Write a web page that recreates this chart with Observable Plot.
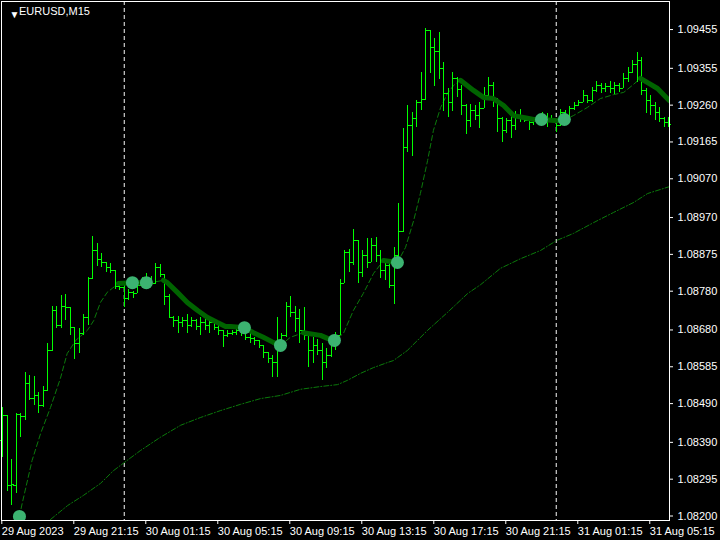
<!DOCTYPE html>
<html>
<head>
<meta charset="utf-8">
<script src="https://cdn.jsdelivr.net/npm/d3@7"></script>
<script src="https://cdn.jsdelivr.net/npm/@observablehq/plot@0.6"></script>
<style>
  html, body { margin: 0; padding: 0; background: #000; }
  #chart { width: 720px; height: 540px; }
</style>
</head>
<body>
<div id="chart"></div>
<script>
// ---- Data (EURUSD, M15) ----
const symbolTitle = "EURUSD,M15";

const open = [1.08395,1.08459,1.08279,1.08279,1.08462,1.08457,1.08542,1.08503,1.08511,1.08485,
1.08524,1.08627,1.08730,1.08691,1.08741,1.08738,1.08686,1.08645,1.08671,1.08712,
1.08813,1.08885,1.08862,1.08854,1.08841,1.08833,1.08792,1.08790,1.08761,1.08777,
1.08774,1.08795,1.08805,1.08813,1.08800,1.08841,1.08823,1.08766,1.08712,1.08704,
1.08699,1.08704,1.08691,1.08704,1.08689,1.08699,1.08691,1.08699,1.08686,1.08679,
1.08666,1.08671,1.08673,1.08679,1.08679,1.08661,1.08658,1.08653,1.08640,1.08622,
1.08606,1.08596,1.08640,1.08666,1.08741,1.08725,1.08710,1.08679,1.08666,1.08627,
1.08640,1.08627,1.08596,1.08614,1.08640,1.08666,1.08800,1.08880,1.08854,1.08911,
1.08828,1.08872,1.08854,1.08898,1.08872,1.08833,1.08846,1.08795,1.08872,1.08934,
1.09151,1.09207,1.09226,1.09267,1.09275,1.09453,1.09409,1.09398,1.09355,1.09290,
1.09267,1.09329,1.09300,1.09259,1.09220,1.09246,1.09233,1.09251,1.09285,1.09311,
1.09272,1.09226,1.09195,1.09220,1.09207,1.09233,1.09226,1.09220,1.09215,1.09220,
1.09226,1.09220,1.09226,1.09220,1.09207,1.09241,1.09233,1.09251,1.09259,1.09267,
1.09285,1.09272,1.09298,1.09311,1.09303,1.09308,1.09303,1.09311,1.09303,1.09329,
1.09344,1.09365,1.09375,1.09298,1.09272,1.09259,1.09241,1.09226,1.09215];

const high = [1.08480,1.08459,1.08346,1.08464,1.08464,1.08570,1.08562,1.08560,1.08519,1.08534,
1.08645,1.08741,1.08741,1.08769,1.08771,1.08738,1.08686,1.08684,1.08720,1.08815,
1.08921,1.08903,1.08877,1.08854,1.08851,1.08833,1.08805,1.08800,1.08784,1.08779,
1.08805,1.08815,1.08826,1.08818,1.08851,1.08849,1.08823,1.08771,1.08715,1.08715,
1.08712,1.08720,1.08712,1.08707,1.08712,1.08707,1.08712,1.08699,1.08699,1.08679,
1.08679,1.08679,1.08681,1.08689,1.08686,1.08679,1.08661,1.08653,1.08640,1.08622,
1.08614,1.08712,1.08671,1.08751,1.08766,1.08741,1.08733,1.08738,1.08666,1.08661,
1.08655,1.08645,1.08632,1.08661,1.08673,1.08810,1.08885,1.08888,1.08939,1.08911,
1.08885,1.08916,1.08916,1.08919,1.08885,1.08862,1.08851,1.08893,1.09006,1.09200,
1.09259,1.09241,1.09272,1.09344,1.09458,1.09453,1.09432,1.09447,1.09370,1.09303,
1.09344,1.09331,1.09311,1.09262,1.09262,1.09259,1.09267,1.09306,1.09331,1.09318,
1.09277,1.09228,1.09226,1.09231,1.09244,1.09249,1.09228,1.09223,1.09228,1.09236,
1.09241,1.09238,1.09233,1.09220,1.09249,1.09246,1.09257,1.09267,1.09272,1.09298,
1.09285,1.09306,1.09321,1.09316,1.09316,1.09321,1.09318,1.09316,1.09342,1.09357,
1.09375,1.09396,1.09383,1.09303,1.09285,1.09267,1.09254,1.09228,1.09228];

const low = [1.08351,1.08263,1.08227,1.08258,1.08403,1.08446,1.08498,1.08485,1.08464,1.08480,
1.08521,1.08624,1.08684,1.08684,1.08704,1.08666,1.08604,1.08619,1.08666,1.08691,
1.08810,1.08844,1.08841,1.08828,1.08826,1.08784,1.08782,1.08738,1.08756,1.08761,
1.08774,1.08790,1.08797,1.08792,1.08797,1.08815,1.08743,1.08710,1.08686,1.08671,
1.08686,1.08671,1.08686,1.08679,1.08666,1.08679,1.08671,1.08679,1.08666,1.08635,
1.08661,1.08666,1.08666,1.08663,1.08653,1.08645,1.08640,1.08632,1.08606,1.08593,
1.08557,1.08557,1.08640,1.08661,1.08712,1.08673,1.08645,1.08653,1.08583,1.08593,
1.08614,1.08550,1.08581,1.08609,1.08627,1.08666,1.08800,1.08828,1.08846,1.08800,
1.08815,1.08839,1.08854,1.08854,1.08813,1.08808,1.08787,1.08746,1.08854,1.08931,
1.09138,1.09128,1.09202,1.09246,1.09272,1.09342,1.09308,1.09326,1.09244,1.09228,
1.09244,1.09280,1.09233,1.09184,1.09202,1.09220,1.09200,1.09251,1.09272,1.09254,
1.09189,1.09164,1.09187,1.09174,1.09195,1.09215,1.09215,1.09195,1.09207,1.09213,
1.09210,1.09202,1.09215,1.09189,1.09205,1.09220,1.09226,1.09246,1.09257,1.09267,
1.09264,1.09267,1.09293,1.09290,1.09293,1.09290,1.09287,1.09293,1.09303,1.09318,
1.09342,1.09318,1.09285,1.09238,1.09233,1.09220,1.09215,1.09202,1.09202];

const close = [1.08459,1.08279,1.08281,1.08462,1.08457,1.08542,1.08503,1.08511,1.08485,1.08524,
1.08627,1.08730,1.08691,1.08741,1.08738,1.08686,1.08645,1.08671,1.08712,1.08813,
1.08885,1.08862,1.08854,1.08841,1.08833,1.08792,1.08790,1.08761,1.08777,1.08774,
1.08795,1.08805,1.08813,1.08800,1.08841,1.08823,1.08766,1.08712,1.08704,1.08699,
1.08704,1.08691,1.08704,1.08689,1.08699,1.08691,1.08699,1.08686,1.08679,1.08666,
1.08671,1.08673,1.08679,1.08679,1.08661,1.08658,1.08653,1.08640,1.08622,1.08606,
1.08596,1.08640,1.08666,1.08741,1.08725,1.08710,1.08679,1.08666,1.08627,1.08640,
1.08627,1.08596,1.08614,1.08640,1.08666,1.08800,1.08880,1.08854,1.08911,1.08828,
1.08872,1.08854,1.08898,1.08872,1.08833,1.08846,1.08795,1.08872,1.08934,1.09151,
1.09207,1.09226,1.09267,1.09275,1.09453,1.09409,1.09398,1.09355,1.09290,1.09267,
1.09329,1.09300,1.09259,1.09220,1.09246,1.09233,1.09251,1.09285,1.09311,1.09272,
1.09226,1.09195,1.09220,1.09207,1.09233,1.09226,1.09220,1.09215,1.09220,1.09226,
1.09220,1.09226,1.09220,1.09207,1.09241,1.09233,1.09251,1.09259,1.09267,1.09285,
1.09272,1.09298,1.09311,1.09303,1.09308,1.09303,1.09311,1.09303,1.09329,1.09344,
1.09365,1.09375,1.09298,1.09272,1.09259,1.09241,1.09226,1.09215,1.09210];

// fast moving average (read points: bar position, price)
const fastIdx = [3.7,4.3,6.5,8.4,10.6,12.8,14.3,16.2,18.8,20.2,21.7,23.2,24.3,25.7,28.8,31.9,32.8,35.7,36.6,38.8,41,43.3,45.5,47.7,49.5,50.6,53.7,55.7,57.9,60.1,61.7,63.9,66.8,70.6,72.8,73.7,75.7,77.9,80.1,82.4,84.6,87.7,89.5,91.3,92.8,94.4,95.7,97.3,98.8,100.2,101.7,104.6,106.8,109,111.3,113.5,115.7,118,119.7,123.3,124.8,126.8,129.9,132.8,135.7,138,139.9,141.7,143.3,145.5,148.1];
const fastVal = [1.08199,1.08232,1.08343,1.08413,1.08480,1.08555,1.08619,1.08653,1.08679,1.08704,1.08751,1.08777,1.08787,1.08800,1.08802,1.08802,1.08802,1.08808,1.08802,1.08777,1.08751,1.08730,1.08712,1.08699,1.08689,1.08689,1.08686,1.08673,1.08661,1.08648,1.08640,1.08661,1.08673,1.08666,1.08655,1.08653,1.08671,1.08730,1.08774,1.08826,1.08859,1.08854,1.08893,1.08962,1.09032,1.09117,1.09195,1.09254,1.09290,1.09311,1.09324,1.09298,1.09280,1.09277,1.09259,1.09233,1.09228,1.09223,1.09223,1.09220,1.09223,1.09233,1.09254,1.09277,1.09287,1.09293,1.09311,1.09329,1.09318,1.09303,1.09272];

// thick (falling) segments of the fast average, as bar-position ranges
const thickSegments = [[25.7,32.8],[35.7,61.7],[66.8,73.7],[84.6,87.7],[101.7,124.8],[141.7,148.1]];

// slow moving average
const slowIdx = [10.6,14.4,17.9,21.7,24.6,27,30.6,35,39.5,43.9,48.4,52.8,57.3,61.7,66.2,70.6,74.4,76.6,79.5,82.4,85.5,86.8,89.9,94.4,98.8,103.3,106.2,110.6,115.1,119.5,123.1,126.8,131.3,135.7,140.2,143.3,148.2];
const slowVal = [1.08191,1.08227,1.08253,1.08284,1.08317,1.08338,1.08369,1.08403,1.08434,1.08454,1.08472,1.08488,1.08503,1.08511,1.08527,1.08534,1.08539,1.08550,1.08568,1.08583,1.08596,1.08601,1.08627,1.08679,1.08725,1.08774,1.08797,1.08839,1.08864,1.08885,1.08911,1.08929,1.08957,1.08983,1.09009,1.09032,1.09050];

// signal circles
const circleIdx = [3.7,28.8,31.9,53.7,61.7,73.7,87.7,119.7,124.8];
const circleVal = [1.08199,1.08802,1.08802,1.08686,1.08640,1.08653,1.08854,1.09223,1.09223];

// day separators (bar positions of midnight)
const separatorIdx = [27, 123];

// axis ticks
const xTickIdx = [0,16,32,48,64,80,96,112,128,144];
const xTickLabels = ["29 Aug 2023","29 Aug 21:15","30 Aug 01:15","30 Aug 05:15","30 Aug 09:15","30 Aug 13:15","30 Aug 17:15","30 Aug 21:15","31 Aug 01:15","31 Aug 05:15"];
const yTicks = [1.08200,1.08295,1.08390,1.08490,1.08585,1.08680,1.08780,1.08875,1.08970,1.09070,1.09165,1.09260,1.09355,1.09455];

// ---- Build tables ----
const bars = open.map((o, i) => ({i, o, h: high[i], l: low[i], c: close[i]}));
const fast = fastIdx.map((x, k) => ({x, y: fastVal[k]}));
const slow = slowIdx.map((x, k) => ({x, y: slowVal[k]}));
const thick = [];
thickSegments.forEach(([a, b], s) => {
  fast.forEach(p => { if (p.x >= a - 1e-9 && p.x <= b + 1e-9) thick.push({...p, seg: s}); });
});
const circles = circleIdx.map((x, k) => ({x, y: circleVal[k]}));

const barColor = "#00ff00";
const font = "Tahoma, 'Liberation Sans', Arial, sans-serif";

const chart = Plot.plot({
  width: 720,
  height: 540,
  marginLeft: 1,
  marginRight: 51,
  marginTop: 1,
  marginBottom: 20,
  style: {background: "#000", color: "#fff", fontFamily: font, fontSize: "11px"},
  x: {domain: [-0.289, 148.16]},
  y: {domain: [1.081884, 1.095274]},
  marks: [
    Plot.ruleX(separatorIdx, {x: d => d, stroke: "#d0d0d0", strokeWidth: 1.2, strokeDasharray: "4,3"}),
    Plot.line(slow, {x: "x", y: "y", stroke: "#0b7a0b", strokeWidth: 1, strokeDasharray: "5,2,1,2", clip: true}),
    Plot.line(fast, {x: "x", y: "y", stroke: "#0b7a0b", strokeWidth: 1, strokeDasharray: "5,3", clip: true}),
    Plot.ruleX(bars, {x: "i", y1: "l", y2: "h", stroke: barColor, strokeWidth: 1, shapeRendering: "crispEdges"}),
    Plot.ruleY(bars, {y: "o", x1: d => d.i - 0.7, x2: "i", stroke: barColor, strokeWidth: 1, shapeRendering: "crispEdges"}),
    Plot.ruleY(bars, {y: "c", x1: "i", x2: d => d.i + 0.7, stroke: barColor, strokeWidth: 1, shapeRendering: "crispEdges"}),
    Plot.line(thick, {x: "x", y: "y", z: "seg", stroke: "#006400", strokeWidth: 5, strokeLinecap: "round", strokeLinejoin: "round", clip: true}),
    Plot.dot(circles, {x: "x", y: "y", r: 6.5, fill: "#3cb371", stroke: "none", clip: true}),
    Plot.frame({stroke: "#fff"}),
    Plot.axisY({anchor: "right", ticks: yTicks, tickFormat: d3.format(".5f"), tickSize: 3, tickPadding: 5, color: "#fff", label: null, fontSize: 11}),
    Plot.axisX({anchor: "bottom", ticks: xTickIdx, tickFormat: d => xTickLabels[xTickIdx.indexOf(d)], tickSize: 4, tickPadding: 3, textAnchor: "start", dx: -1, color: "#fff", label: null, fontSize: 11}),
    Plot.text(["\u25BC"], {frameAnchor: "top-left", dx: 8, dy: 9.5, fontSize: 10, fill: "#fff"}),
    Plot.text([symbolTitle], {frameAnchor: "top-left", dx: 17.5, dy: 10, textAnchor: "start", lineAnchor: "middle", fontSize: 11, fill: "#fff"})
  ]
});
document.getElementById("chart").appendChild(chart);
</script>
</body>
</html>
